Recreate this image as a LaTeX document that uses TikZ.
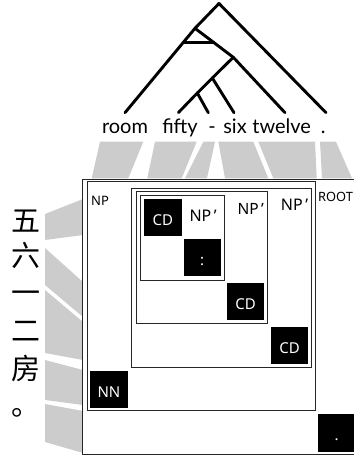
\documentclass[tikz,border=0pt]{standalone}
\usepackage{fontspec}
\setmainfont{Noto Sans}
\newfontfamily\wordfont{Lato}
\newfontfamily\cjkfont{Noto Sans CJK SC}
\usetikzlibrary{calc}
\begin{document}
\begin{tikzpicture}[x=1pt,y=-1pt,
  band/.style={fill=black!20, draw=none},
  box/.style={draw=black!85, line width=0.8pt, fill=white},
  cell/.style={fill=black, text=white, minimum size=37.5pt, inner sep=0pt, anchor=north west,
    text height=16pt, text depth=0pt, font=\fontsize{15}{15}\selectfont},
  lab/.style={anchor=base west, inner sep=0pt},
  word/.style={anchor=base, inner sep=0pt, font=\wordfont\fontsize{20}{22}\selectfont},
  zh/.style={inner sep=0pt, text height=0.88em, text depth=0.12em, font=\cjkfont\fontsize{29}{29}\selectfont},
  branch/.style={line width=2.9pt, line cap=round, line join=round}
]
\useasboundingbox (0,0) rectangle (354,456);

% ---- tree ----
\node[word] (w1) at (125,133.3) {room};
\node[word] (w2) at (180,133.3) {fifty};
\node[word] (w3) at (212,133.3) {-};
\node[word] (w4) at (235,133.3) {six};
\node[word] (w5) at (281.7,133.3) {twelve};
\node[word] (w6) at (323.3,133.3) {.};

\coordinate (l1) at (125,112.7);
\coordinate (l2) at (178.3,112.7);
\coordinate (l3) at (208.3,112.7);
\coordinate (l4) at (234,112.7);
\coordinate (l5) at (285,112.7);
\coordinate (l6) at (326,112.7);

\coordinate (root) at (219,3.5);
\coordinate (np) at (195,28.3);
\coordinate (npa) at (233.3,57.3);
\coordinate (npb) at (212.3,78);
\coordinate (npc) at (197.3,93);
\coordinate (barl) at (183.2,42.7);
\coordinate (barr) at (214,42.7);

\draw[branch] (root) -- (np) -- (l1);
\draw[branch] (root) -- (l6);
\draw[branch] (np) -- (npa);
\draw[branch] (barl) -- (barr);
\draw[branch] (npa) -- (l5);
\draw[branch] (npa) -- (npb);
\draw[branch] (npb) -- (l4);
\draw[branch] (npb) -- (npc);
\draw[branch] (npc) -- (l2);
\draw[branch] (npc) -- (l3);

% ---- top bands ----
\fill[band] (100,141.7) -- (143.3,141.7) -- (128.3,178.3) -- (91.7,178.3) -- cycle;
\fill[band] (155,141.7) -- (196.7,141.7) -- (181.7,178.3) -- (147.3,178.3) -- cycle;
\fill[band] (203.3,141.7) -- (215,141.7) -- (207,178.3) -- (185,178.3) -- cycle;
\fill[band] (218.3,141.7) -- (253.3,141.7) -- (268.3,178.3) -- (225,178.3) -- cycle;
\fill[band] (258.3,141.7) -- (315,141.7) -- (316.7,178.3) -- (273.3,178.3) -- cycle;
\fill[band] (320,141.7) -- (336,141.7) -- (352,178.3) -- (322,178.3) -- cycle;

% ---- left tokens ----
\node[zh] (z1) at (26,227.5) {五};
\node[zh] (z2) at (26,263) {六};
\node[zh] (z3) at (26,300) {一};
\node[zh] (z4) at (26,337.5) {二};
\node[zh] (z5) at (26,375.5) {房};
\node[zh] (z6) at (26,412) {。};

% ---- left bands ----
\fill[band] (45,214) -- (83,199) -- (83,235) -- (45,240) -- cycle;
\fill[band] (45,248) -- (83,282) -- (83,317) -- (45,285) -- cycle;
\fill[band] (45,290) -- (83,322) -- (83,341.5) -- (45,321.5) -- cycle;
\fill[band] (45,321) -- (83,341) -- (83,360) -- (45,353) -- cycle;
\fill[band] (45,360) -- (83,370) -- (83,405) -- (45,400) -- cycle;
\fill[band] (45,404) -- (83,411) -- (83,453) -- (45,442) -- cycle;

% ---- nested boxes ----
\draw[box] (82.7,179.3) rectangle (357,454);
\draw[box] (87.3,181.7) rectangle (315,410.7);
\draw[box] (131.7,188.3) rectangle (311,367.3);
\draw[box] (136,191.7) rectangle (267.3,323.3);
\draw[box] (140,195.3) rectangle (224,280);

\node[lab, font=\fontsize{12.8}{13}\selectfont] (lroot) at (318,201.7) {ROOT};
\node[lab, font=\fontsize{13}{13}\selectfont] (lnp) at (91,205.3) {NP};
\node[lab, font=\fontsize{16}{16}\selectfont] (lnp1) at (189.3,221) {NP\,’};
\node[lab, font=\fontsize{15.5}{16}\selectfont] (lnp2) at (237.3,214) {NP\,’};
\node[lab, font=\fontsize{16}{16}\selectfont] (lnp3) at (280.7,210) {NP\,’};

% ---- black cells ----
\node[cell] (c1) at (144,198.3) {CD};
\node[cell] (c2) at (183.3,238.3) {:};
\node[cell] (c3) at (226.7,282.7) {CD};
\node[cell] (c4) at (270.7,326.7) {CD};
\node[cell] (c5) at (90,370.3) {NN};
\node[cell] (c6) at (317.7,414) {.};
\end{tikzpicture}
\end{document}
